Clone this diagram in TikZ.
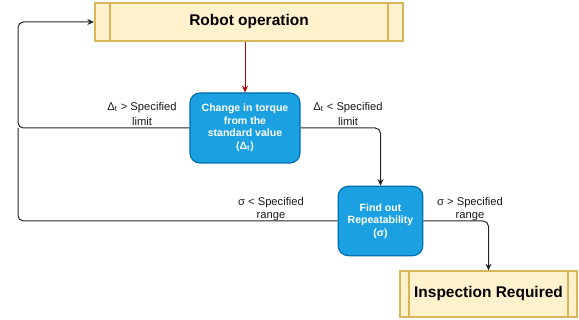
\documentclass[tikz,border=0pt]{standalone}
\usepackage{fontspec}
\setmainfont{Liberation Sans}
\usetikzlibrary{arrows.meta,calc}

\definecolor{procfill}{HTML}{FFF2CC}
\definecolor{procdraw}{HTML}{D6B656}
\definecolor{decfill}{HTML}{1BA1E2}
\definecolor{decdraw}{HTML}{006EAF}
\definecolor{redline}{HTML}{B20000}

\tikzset{
  process/.style={draw=procdraw, fill=procfill, line width=1.5pt,
    font=\bfseries\fontsize{11.6}{14}\selectfont, text=black, inner sep=0pt,
    path picture={
      \draw[procdraw, line width=1.5pt]
        ([xshift=#1]path picture bounding box.north west) --
        ([xshift=#1]path picture bounding box.south west)
        ([xshift=-#1]path picture bounding box.north east) --
        ([xshift=-#1]path picture bounding box.south east);
    }},
  decision/.style={draw=decdraw, fill=decfill, line width=0.9pt,
    rounded corners=7.5pt, text=white, align=center, inner sep=0pt,
    font=\bfseries\fontsize{7.9}{9.4}\selectfont},
  wire/.style={draw=black!85, line width=0.75pt, rounded corners=4pt},
  conn/.style={wire, -{Stealth[length=5pt,width=4.5pt]}},
  lbl/.style={align=center, inner sep=0pt, text=black!90,
    font=\fontsize{8.4}{9.2}\selectfont}
}

\begin{document}
\begin{tikzpicture}[x=0.75pt, y=-0.75pt]
  \useasboundingbox (0,0) rectangle (579,320);

  % main blocks
  \node[process=11.5pt, minimum width=231pt, minimum height=28.5pt]
    (robot) at (249,22) {Robot operation};
  \node[process=6.6pt, minimum width=132.5pt, minimum height=34pt]
    (insp) at (488.5,294) {Inspection Required};

  \node[decision, minimum width=82.5pt, minimum height=52.5pt]
    (torque) at (245,128) {Change in torque\\from the\\standard value\\(Δ\textsubscript{t})};
  \node[decision, minimum width=63.5pt, minimum height=52pt]
    (rep) at (380.5,221) {Find out\\Repeatability\\(σ)};

  % return line on the left
  \coordinate (lx) at (18,0);

  % connectors
  \draw[conn, draw=redline, rounded corners=0pt]
    (torque.north |- robot.south) -- (torque.north);
  \draw[conn] (torque.west) -| (lx |- robot.west) -- (robot.west);
  \draw[wire] (rep.west) -| (lx |- torque.west);
  \draw[conn] (torque.east) -| (rep.north);
  \draw[conn] (rep.east) -| (insp.north);

  % branch labels
  \node[lbl] (l1) at (142,114) {Δ\textsubscript{t} > Specified\\[2pt]limit};
  \node[lbl] (l2) at (348,114) {Δ\textsubscript{t} < Specified\\[2pt]limit};
  \node[lbl] (l3) at (271,209) {σ < Specified\\range};
  \node[lbl] (l4) at (470,209) {σ > Specified\\range};
\end{tikzpicture}
\end{document}
